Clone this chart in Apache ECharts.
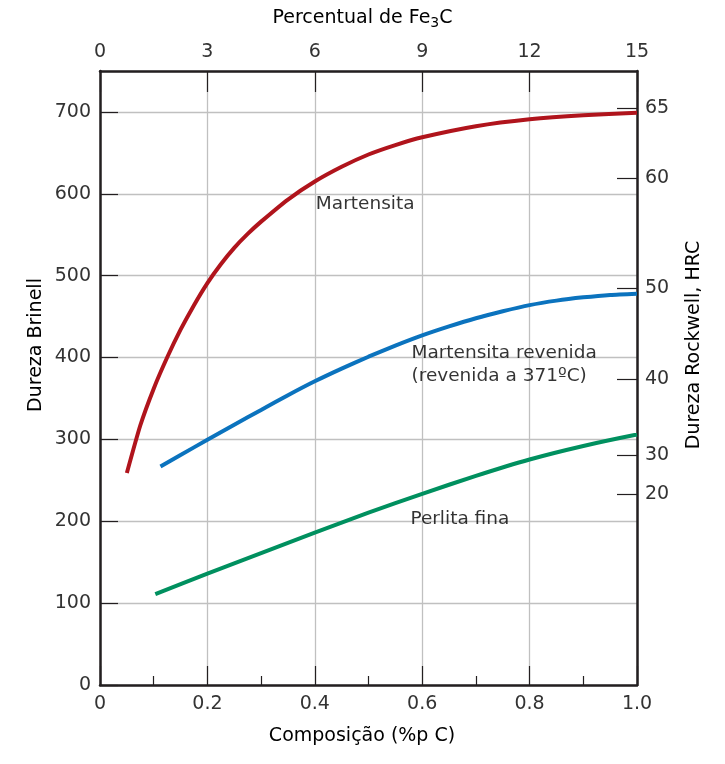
<!DOCTYPE html>
<html>
<head>
<meta charset="utf-8">
<script src="https://cdn.jsdelivr.net/npm/echarts@6/dist/echarts.min.js"></script>
<style>
    html, body { margin: 0; padding: 0; background: #fff; }
    #container { width: 725px; height: 764px; }
</style>
</head>
<body>
<div id="container"></div>
<script>
// carbon content (wt% C) and Brinell hardness
const martensitaC  = [0.05, 0.075, 0.1, 0.125, 0.15, 0.175, 0.2, 0.225, 0.25, 0.275, 0.3, 0.35, 0.4, 0.45, 0.5, 0.55, 0.6, 0.7, 0.8, 0.9, 1.0];
const martensitaHB = [259, 317, 362, 400, 434, 464, 491, 514, 534, 551, 566, 593, 615, 633, 648, 659.5, 669, 682.5, 691, 696, 699];

const revenidaC  = [0.1126, 0.15, 0.2, 0.25, 0.3, 0.35, 0.4, 0.45, 0.5, 0.55, 0.6, 0.65, 0.7, 0.75, 0.8, 0.85, 0.9, 0.95, 1.0];
const revenidaHB = [267, 281, 299.5, 318, 336, 354, 371, 386.5, 401, 414.5, 427, 438, 448, 456.5, 464, 469.5, 473.5, 476.5, 478];

const perlitaC  = [0.103, 0.2, 0.3, 0.4, 0.5, 0.6, 0.7, 0.8, 0.9, 1.0];
const perlitaHB = [111, 136, 161, 186, 210.5, 233.5, 255.5, 275.5, 292, 306];

// right axis: Rockwell C labels and the Brinell value they sit at
const hrcLabels  = [65, 60, 50, 40, 30, 20];
const hrcBrinell = [705, 619, 485, 374, 281, 233];

// curve labels
const noteText = ['Martensita', 'Martensita revenida\n(revenida a 371ºC)', 'Perlita fina'];
const noteC    = [0.402, 0.58, 0.578];
const noteHB   = [587, 391, 202];

const FONT = 'DejaVu Sans';
const AXIS_COLOR = '#231f20';
const GRID_COLOR = '#c0c0c0';

function zip(xs, ys) {
    return xs.map((x, i) => [x, ys[i]]);
}

const chart = echarts.init(document.getElementById('container'));

const axisLine = { show: true, onZero: false, lineStyle: { color: AXIS_COLOR, width: 2.5 } };
const tickLabel = { color: '#333', fontFamily: FONT, fontSize: 19 };
const tickStyle = { color: AXIS_COLOR, width: 1.2 };

const option = {
    backgroundColor: '#fff',
    animation: false,
    grid: { left: 100, right: 88, top: 71, bottom: 79 },
    xAxis: [{
        type: 'value',
        position: 'bottom',
        min: 0,
        max: 1,
        interval: 0.2,
        name: 'Composição (%p C)',
        nameLocation: 'middle',
        nameGap: 42,
        nameTextStyle: { color: '#000', fontFamily: FONT, fontSize: 19, padding: [0, 13, 0, 0] },
        axisLine: axisLine,
        axisTick: { inside: true, length: 19, lineStyle: tickStyle },
        minorTick: { show: true, splitNumber: 2, length: 9, lineStyle: tickStyle },
        splitLine: { show: true, lineStyle: { color: GRID_COLOR, width: 1.3 } },
        axisLabel: Object.assign({
            margin: 10,
            formatter: v => v === 0 ? '0' : v.toFixed(1)
        }, tickLabel)
    }, {
        type: 'value',
        position: 'top',
        min: 0,
        max: 15,
        interval: 3,
        name: 'Percentual de Fe{sub|3}C',
        nameLocation: 'middle',
        nameGap: 41,
        nameTextStyle: {
            color: '#000', fontFamily: FONT, fontSize: 19, padding: [0, 12, 0, 0],
            rich: { sub: { fontFamily: FONT, fontSize: 14, verticalAlign: 'bottom', padding: [9, 0, 0, 0] } }
        },
        axisLine: axisLine,
        axisTick: { inside: true, length: 21, lineStyle: tickStyle },
        splitLine: { show: false },
        axisLabel: Object.assign({ margin: 9 }, tickLabel)
    }],
    yAxis: [{
        type: 'value',
        position: 'left',
        min: 0,
        max: 750,
        interval: 100,
        axisLine: axisLine,
        axisTick: { inside: true, length: 18, lineStyle: tickStyle },
        splitLine: { show: true, lineStyle: { color: GRID_COLOR, width: 1.3 } },
        axisLabel: Object.assign({
            margin: 9,
            showMaxLabel: false,
            formatter: v => v > 700 ? '' : String(v)
        }, tickLabel)
    }, {
        type: 'value',
        position: 'right',
        min: 0,
        max: 750,
        axisLine: axisLine,
        axisTick: {
            inside: true, length: 20, customValues: hrcBrinell,
            lineStyle: tickStyle
        },
        splitLine: { show: false },
        axisLabel: Object.assign({
            margin: 8,
            customValues: hrcBrinell,
            formatter: v => {
                const i = hrcBrinell.indexOf(v);
                return i < 0 ? '' : String(hrcLabels[i]);
            }
        }, tickLabel)
    }],
    graphic: [{
        type: 'text',
        x: 36, y: 345,
        rotation: Math.PI / 2,
        style: {
            text: 'Dureza Brinell', fill: '#000', font: '19px "DejaVu Sans"',
            align: 'center', verticalAlign: 'middle'
        }
    }, {
        type: 'text',
        x: 694, y: 345,
        rotation: Math.PI / 2,
        style: {
            text: 'Dureza Rockwell, HRC', fill: '#000', font: '19px "DejaVu Sans"',
            align: 'center', verticalAlign: 'middle'
        }
    }],
    series: [{
        name: 'Martensita',
        type: 'line',
        smooth: 0.2,
        showSymbol: false,
        lineStyle: { color: '#b0141c', width: 4 },
        data: zip(martensitaC, martensitaHB),
        z: 3
    }, {
        name: 'Martensita revenida',
        type: 'line',
        smooth: 0.2,
        showSymbol: false,
        lineStyle: { color: '#0b73be', width: 4 },
        data: zip(revenidaC, revenidaHB),
        z: 3
    }, {
        name: 'Perlita fina',
        type: 'line',
        smooth: 0.2,
        showSymbol: false,
        lineStyle: { color: '#00905f', width: 4 },
        data: zip(perlitaC, perlitaHB),
        z: 3
    }, {
        type: 'scatter',
        symbolSize: 0,
        silent: true,
        z: 4,
        label: {
            show: true,
            position: 'right',
            distance: 0,
            color: '#000',
            fontFamily: FONT,
            fontSize: 18.5,
            lineHeight: 23,
            align: 'left',
            verticalAlign: 'middle',
            formatter: p => noteText[p.dataIndex]
        },
        data: zip(noteC, noteHB)
    }]
};

chart.setOption(option);
</script>
</body>
</html>
